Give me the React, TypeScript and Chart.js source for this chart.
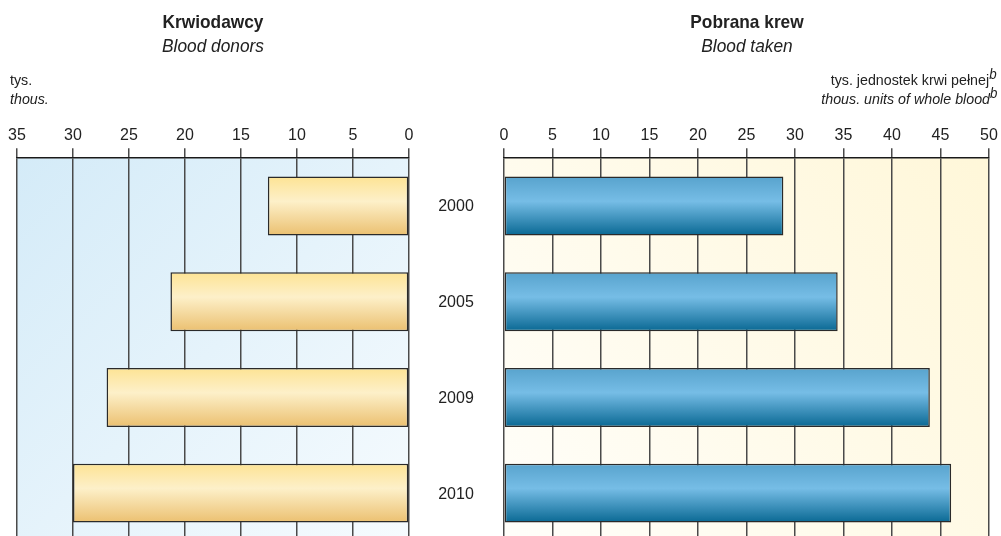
import React, { useEffect, useRef } from "react";
import { Chart, registerables } from "chart.js";

Chart.register(...registerables);

const years = ["2000", "2005", "2009", "2010"];
const donors = [12.6, 21.3, 27.0, 30.0];
const bloodTaken = [28.8, 34.4, 43.9, 46.1];
const donorTicksMax = 35;
const bloodTicksMax = 50;

const FONT = "'Liberation Sans', Arial, sans-serif";

function bgPlugin(stops: [number, string][], dir: "lr" | "bl") {
  return {
    id: "areaBg",
    beforeDraw(chart: any) {
      const { ctx, chartArea: a } = chart;
      if (!a) return;
      const g =
        dir === "lr"
          ? ctx.createLinearGradient(a.left, a.top, a.right, a.bottom)
          : ctx.createLinearGradient(a.left, a.bottom, a.right, a.top);
      stops.forEach(([o, c]) => g.addColorStop(o, c));
      ctx.save();
      ctx.fillStyle = g;
      ctx.fillRect(a.left, a.top, a.right - a.left, a.bottom - a.top);
      ctx.restore();
    },
  };
}

const yearLabelPlugin = {
  id: "yearLabels",
  afterDraw(chart: any) {
    const { ctx, chartArea: a, scales } = chart;
    const ys = scales.y;
    if (!a || !ys) return;
    ctx.save();
    ctx.font = `16px ${FONT}`;
    ctx.fillStyle = "#222";
    ctx.textAlign = "center";
    ctx.textBaseline = "middle";
    (chart.data.labels as string[]).forEach((lab, i) => {
      ctx.fillText(lab, a.left - 48, ys.getPixelForValue(i) + 1);
    });
    ctx.restore();
  },
};

function barGradient(stops: [number, string][], half: number) {
  return (c: any) => {
    const chart = c.chart;
    const ys = chart.scales && chart.scales.y;
    if (!ys || c.dataIndex === undefined) return stops[0][1];
    const yc = ys.getPixelForValue(c.dataIndex);
    if (!isFinite(yc)) return stops[0][1];
    const g = chart.ctx.createLinearGradient(0, yc - half, 0, yc + half);
    stops.forEach(([o, col]) => g.addColorStop(o, col));
    return g;
  };
}

const yellowStops: [number, string][] = [
  [0, "#fde394"],
  [0.42, "#fdf0c9"],
  [1, "#ebc070"],
];
const blueStops: [number, string][] = [
  [0, "#58a3cd"],
  [0.42, "#76bde6"],
  [1, "#096893"],
];

const tickFont = { family: FONT, size: 16 };

function xScale(max: number, reverse: boolean) {
  return {
    type: "linear",
    min: 0,
    max,
    reverse,
    position: "top",
    ticks: { stepSize: 5, font: tickFont, color: "#222", padding: 3 },
    grid: {
      color: "#4a4a4a",
      lineWidth: 1.5,
      tickLength: 10,
      drawOnChartArea: true,
      drawTicks: true,
    },
    border: { display: true, color: "#1a1a1a", width: 1.5 },
  };
}

function barDataset(values: number[], stops: [number, string][]) {
  return {
    data: values,
    backgroundColor: barGradient(stops, 29.5),
    borderColor: "#2a2a2a",
    borderWidth: 1.5,
    borderSkipped: false,
    barPercentage: 0.615,
    categoryPercentage: 1,
  };
}

export default function App() {
  const leftRef = useRef<HTMLCanvasElement>(null);
  const rightRef = useRef<HTMLCanvasElement>(null);

  useEffect(() => {
    const left = new Chart(leftRef.current!, {
      type: "bar",
      data: { labels: years, datasets: [barDataset(donors, yellowStops)] },
      options: {
        indexAxis: "y",
        responsive: false,
        animation: false,
        devicePixelRatio: 1,
        layout: { padding: { left: 17, right: 21, top: 123, bottom: 0 } },
        plugins: { legend: { display: false }, tooltip: { enabled: false } },
        scales: {
          x: xScale(donorTicksMax, true) as any,
          y: { type: "category", display: false, offset: true },
        },
      },
      plugins: [
        bgPlugin(
          [
            [0, "#d4ebf8"],
            [1, "#f6fbfe"],
          ],
          "lr"
        ),
      ],
    } as any);

    const right = new Chart(rightRef.current!, {
      type: "bar",
      data: { labels: years, datasets: [barDataset(bloodTaken, blueStops)] },
      options: {
        indexAxis: "y",
        responsive: false,
        animation: false,
        devicePixelRatio: 1,
        layout: { padding: { left: 95, right: 12, top: 123, bottom: 0 } },
        plugins: { legend: { display: false }, tooltip: { enabled: false } },
        scales: {
          x: xScale(bloodTicksMax, false) as any,
          y: { type: "category", display: false, offset: true },
        },
      },
      plugins: [
        bgPlugin(
          [
            [0, "#fffefa"],
            [1, "#fff7d9"],
          ],
          "bl"
        ),
        yearLabelPlugin,
      ],
    } as any);

    return () => {
      left.destroy();
      right.destroy();
    };
  }, []);

  const textBase: React.CSSProperties = {
    position: "absolute",
    fontFamily: FONT,
    color: "#222",
    whiteSpace: "nowrap",
    lineHeight: "20px",
  };

  const titleStyle = (left: number, top: number, extra: React.CSSProperties): React.CSSProperties => ({
    ...textBase,
    left,
    top,
    width: 200,
    textAlign: "center",
    fontSize: 19,
    transform: "scaleX(0.91)",
    transformOrigin: "center",
    ...extra,
  });

  const unitRight: React.CSSProperties = {
    ...textBase,
    right: 4,
    fontSize: 15,
    textAlign: "right",
    transform: "scaleX(0.95)",
    transformOrigin: "right",
  };

  return (
    <div
      style={{
        position: "fixed",
        left: 0,
        top: 0,
        width: 1001,
        height: 536,
        overflow: "hidden",
        background: "#fff",
      }}
    >
      <canvas
        ref={leftRef}
        width={430}
        height={541}
        style={{ position: "absolute", left: 0, top: 0, width: 430, height: 541 }}
      />
      <canvas
        ref={rightRef}
        width={592}
        height={541}
        style={{ position: "absolute", left: 409, top: 0, width: 592, height: 541 }}
      />
      <div style={titleStyle(113, 12, { fontWeight: "bold" })}>Krwiodawcy</div>
      <div style={titleStyle(113, 36, { fontStyle: "italic" })}>Blood donors</div>
      <div style={titleStyle(647, 12, { fontWeight: "bold" })}>Pobrana krew</div>
      <div style={titleStyle(647, 36, { fontStyle: "italic" })}>Blood taken</div>
      <div style={{ ...textBase, left: 10, top: 70, fontSize: 15, transform: "scaleX(0.95)", transformOrigin: "left" }}>
        tys.
      </div>
      <div
        style={{
          ...textBase,
          left: 10,
          top: 89,
          fontSize: 15,
          fontStyle: "italic",
          transform: "scaleX(0.95)",
          transformOrigin: "left",
        }}
      >
        thous.
      </div>
      <div style={{ ...unitRight, top: 70 }}>
        tys. jednostek krwi pełnej
        <span style={{ fontStyle: "italic", fontSize: 14, position: "relative", top: -6 }}>b</span>
      </div>
      <div style={{ ...unitRight, top: 89, fontStyle: "italic" }}>
        thous. units of whole blood
        <span style={{ fontSize: 14, position: "relative", top: -6 }}>b</span>
      </div>
    </div>
  );
}
